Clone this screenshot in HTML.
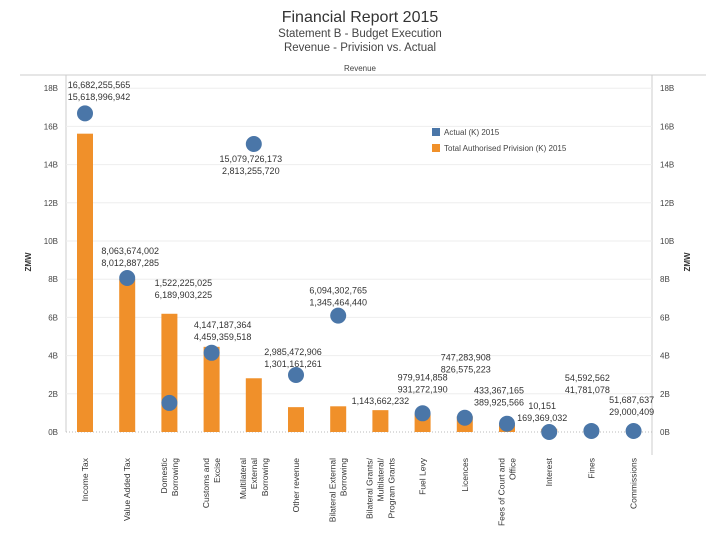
<!DOCTYPE html>
<html><head><meta charset="utf-8"><style>
body{margin:0;background:#fff;font-family:"Liberation Sans",sans-serif;}
svg text{font-family:"Liberation Sans",sans-serif;}
</style></head><body>
<svg id="chart" width="720" height="540" viewBox="0 0 720 540">
<text x="360" y="22" text-anchor="middle" font-size="16" fill="#333">Financial Report 2015</text>
<text x="360" y="37" text-anchor="middle" font-size="11.5" fill="#444">Statement B - Budget Execution</text>
<text x="360" y="51" text-anchor="middle" font-size="11.5" fill="#444">Revenue - Privision vs. Actual</text>
<text x="360" y="71" text-anchor="middle" font-size="8" fill="#444">Revenue</text>
<line x1="20" y1="75" x2="706" y2="75" stroke="#ccc"/>
<line x1="66" y1="75" x2="66" y2="432" stroke="#ccc"/>
<line x1="652" y1="75" x2="652" y2="455" stroke="#ccc"/>
<text transform="translate(31,262) rotate(-90)" text-anchor="middle" font-size="8" font-weight="bold" fill="#333">ZMW</text>
<text transform="translate(690,262) rotate(-90)" text-anchor="middle" font-size="8" font-weight="bold" fill="#333">ZMW</text>
<g id="grid"></g><g id="bars"></g><g id="dots"></g><g id="labels"></g><g id="cats"></g>
<g>
<rect x="432" y="128" width="8" height="8" fill="#4A76A8"/>
<text x="444" y="135" font-size="8" fill="#444">Actual (K) 2015</text>
<rect x="432" y="144" width="8" height="8" fill="#F0902A"/>
<text x="444" y="151" font-size="8" fill="#444">Total Authorised Privision (K) 2015</text>
</g>
</svg>
<script>
const categories=[["Income Tax"],["Value Added Tax"],["Domestic","Borrowing"],["Customs and","Excise"],["Multilateral","External","Borrowing"],["Other revenue"],["Bilateral External","Borrowing"],["Bilateral Grants/","Multilateral/","Program Grants"],["Fuel Levy"],["Licences"],["Fees of Court and","Office"],["Interest"],["Fines"],["Commissions"]];
const actual=[16682255565,8063674002,1522225025,4147187364,15079726173,2985472906,6094302765,null,979914858,747283908,433367165,10151,54592562,51687637];
const provision=[15618996942,8012887285,6189903225,4459359518,2813255720,1301161261,1345464440,1143662232,931272190,826575223,389925566,169369032,41781078,29000409];
const ticks=[0,2,4,6,8,10,12,14,16,18];
const tickLabels=["0B","2B","4B","6B","8B","10B","12B","14B","16B","18B"];
// label layout nudges (collision avoidance), not data
const LBL_DY=[0,4,-8,3,46,8,6,2,-5,-29,-2,5,-22,0];
const LBL_DX=[14,3,14,11,-3,-3,0,0,0,1,-8,-7,-4,-2];
const NS="http://www.w3.org/2000/svg";
const y=v=>432-v/1e9*19.1;
const x=i=>85+i*42.2;
function mk(t,a,p){const e=document.createElementNS(NS,t);for(const k in a)e.setAttribute(k,a[k]);document.getElementById(p).appendChild(e);return e;}
const fmt=v=>v.toLocaleString("en-US");
ticks.forEach((t,i)=>{
  const yy=y(t*1e9);
  const g=mk("line",{x1:66,x2:652,y1:yy,y2:yy,stroke:t===0?"#bbb":"#eee","stroke-dasharray":t===0?"1,2":""},"grid");
  
  
  const l=mk("text",{x:58,y:yy+3,"text-anchor":"end","font-size":8,fill:"#444"},"grid");l.textContent=tickLabels[i];
  
  
  const r=mk("text",{x:660,y:yy+3,"font-size":8,fill:"#444"},"grid");r.textContent=tickLabels[i];
  
  
});
categories.forEach((c,i)=>{
  const cx=x(i);
  const by=y(provision[i]);
  const b=mk("rect",{x:cx-8,y:by,width:16,height:432-by,fill:"#F0902A"},"bars");
  
  
  let top=by;
  if(actual[i]!==null){
    const dy=y(actual[i]);
    const d=mk("circle",{cx:cx,cy:dy,r:8,fill:"#4A76A8"},"dots");
    
    
    top=Math.min(top,dy-8);
  }
  const lines=actual[i]!==null?[fmt(actual[i]),fmt(provision[i])]:[fmt(provision[i])];
  let ly=top-8-(lines.length-1)*12+LBL_DY[i];
  if(ly<88)ly=88;
  lines.forEach((s,k)=>{
    const t=mk("text",{x:cx+LBL_DX[i],y:ly+k*12,"text-anchor":"middle","font-size":9,fill:"#333"},"labels");
    t.textContent=s;
    
    
  });
  const n=c.length;
  c.forEach((s,k)=>{
    const lx=cx+(k-(n-1)/2)*11+3;
    const t=mk("text",{transform:`translate(${lx},458) rotate(-90)`,"text-anchor":"end","font-size":8.5,fill:"#333"},"cats");
    t.textContent=s;
    
    
  });
});
</script>
</body></html>
